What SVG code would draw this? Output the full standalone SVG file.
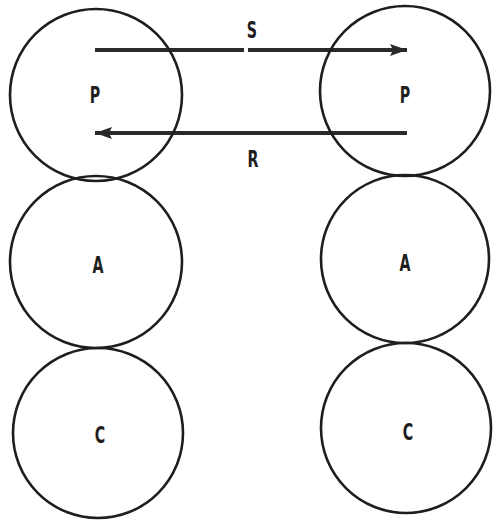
<svg xmlns="http://www.w3.org/2000/svg" width="494" height="521" viewBox="0 0 494 521">
<style>
.n{fill:none;stroke:#1e1e1e;stroke-width:2.6}
.t{font-family:"DejaVu Sans","Liberation Sans",sans-serif;font-weight:bold;font-size:23px;fill:#1e1e1e;text-anchor:middle;dominant-baseline:central}
.c{stroke:#2a2a2a;stroke-width:4;fill:none}
</style>
<defs>
<marker id="ah" markerWidth="18" markerHeight="12" refX="17" refY="6" orient="auto" markerUnits="userSpaceOnUse">
<path d="M0,0 L17,6 L0,12 L3,6 Z" fill="#2a2a2a"/>
</marker>
</defs>
<rect width="494" height="521" fill="#fff"/>
<g id="connectors">
<line class="c" x1="95" y1="50" x2="244" y2="50"/>
<line class="c" x1="248" y1="50" x2="407" y2="50" marker-end="url(#ah)"/>
<line class="c" x1="407" y1="133" x2="95" y2="133" marker-end="url(#ah)"/>
<text class="t" transform="translate(252 30) scale(0.62 1)">S</text>
<text class="t" transform="translate(253 159) scale(0.62 1)">R</text>
</g>
<g id="leftP"><circle class="n" cx="96" cy="95" r="86"/><text class="t" transform="translate(95 95) scale(0.62 1)">P</text></g>
<g id="leftA"><circle class="n" cx="96" cy="262" r="86"/><text class="t" transform="translate(98 265) scale(0.62 1)">A</text></g>
<g id="leftC"><circle class="n" cx="98" cy="433" r="85"/><text class="t" transform="translate(100 435) scale(0.62 1)">C</text></g>
<g id="rightP"><circle class="n" cx="405" cy="91" r="85"/><text class="t" transform="translate(405 95) scale(0.62 1)">P</text></g>
<g id="rightA"><circle class="n" cx="405" cy="259" r="84"/><text class="t" transform="translate(405 263) scale(0.62 1)">A</text></g>
<g id="rightC"><circle class="n" cx="406" cy="428" r="85"/><text class="t" transform="translate(408 432) scale(0.62 1)">C</text></g>
</svg>
